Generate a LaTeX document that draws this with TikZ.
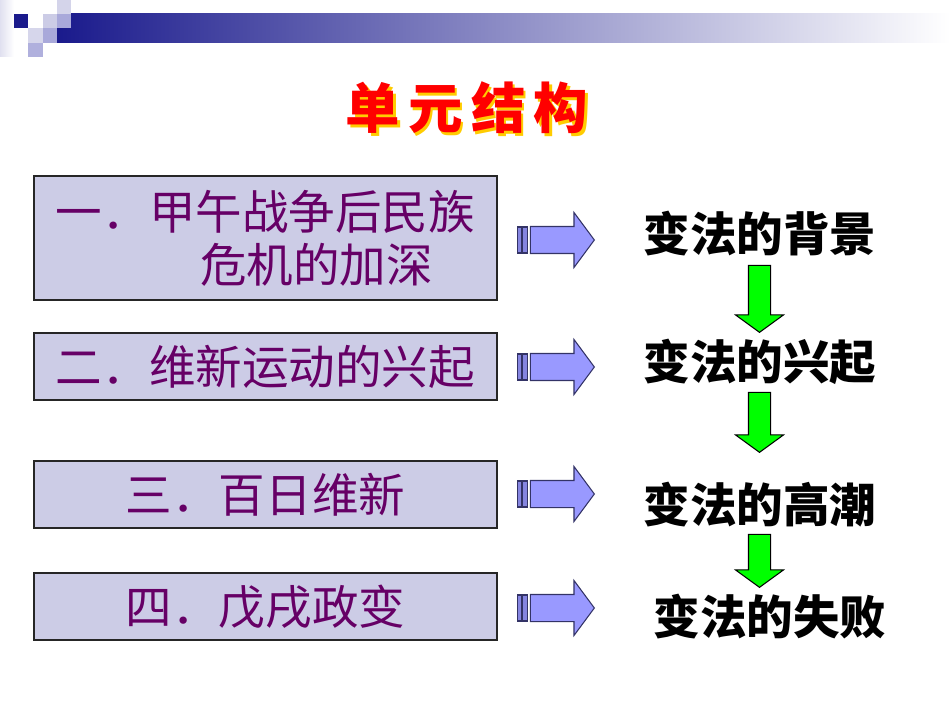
\documentclass[tikz,border=0pt]{standalone}
\usepackage{fontspec}
\newfontfamily\cjk{Noto Sans CJK SC}
\usetikzlibrary{shapes.arrows}
\definecolor{navy}{HTML}{1A1A8C}
\definecolor{lilac}{HTML}{CCCCE6}
\definecolor{plum}{HTML}{660066}
\definecolor{cornflower}{HTML}{9999FF}
\definecolor{slate}{HTML}{333366}
\definecolor{gold}{HTML}{FFCC00}
\tikzset{
  heading/.style={
    text=red,
    font=\cjk\bfseries\fontsize{31}{34}\selectfont,
    inner sep=0pt
  },
  topic/.style={
    draw=black!85,
    line width=0.8pt,
    fill=lilac,
    text=plum,
    minimum width=9.26cm,
    font=\cjk\fontsize{26.5}{30}\selectfont,
    inner sep=0pt
  },
  stage/.style={
    text=black,
    font=\cjk\bfseries\fontsize{26.5}{30}\selectfont,
    inner sep=0pt
  },
  pointer/.style={
    single arrow,
    draw=slate,
    fill=cornflower,
    line width=0.6pt,
    inner sep=0.26cm,
    single arrow head extend=0.28cm,
    single arrow tip angle=107,
    minimum height=1.28cm,
    anchor=tip
  },
  tailbar/.style={
    draw=slate,
    fill=cornflower!80!slate,
    line width=0.6pt
  },
  godown/.style={
    single arrow,
    shape border rotate=270,
    draw=black,
    fill=green,
    line width=0.6pt,
    inner sep=0.21cm,
    single arrow head extend=0.26cm,
    single arrow tip angle=108,
    anchor=tip
  }
}

\begin{document}
\begin{tikzpicture}[x=0.02cm,y=-0.02cm]
  \useasboundingbox (0,0) rectangle (950,713);

  % header band
  \shade[left color=lilac!60, right color=white] (0,0) rectangle (14,57);
  \shade[left color=navy, right color=white] (57,14) rectangle (950,43);
  \fill[navy] (14,14) rectangle (28,28);
  \fill[lilac] (43,14) rectangle (57,28);
  \fill[lilac!85] (57,0) rectangle (71,14);
  \fill[cornflower!60!slate!60] (57,14) rectangle (71,28);
  \fill[lilac!80] (28,28) rectangle (43,43);
  \fill[cornflower!60!slate!60] (43,28) rectangle (57,43);
  \fill[cornflower!60!slate!55] (28,43) rectangle (43,57);

  % title
  \node[heading, text=gold] (titleshadow) at (469.5,110.5)
    {单\hspace{.15em}元\hspace{.15em}结\hspace{.15em}构};
  \node[heading] (title) at (467,108)
    {单\hspace{.15em}元\hspace{.15em}结\hspace{.15em}构};

  % left column
  \node[topic, minimum height=2.48cm, align=left] (jiawu) at (265.5,238)
    {一．甲午战争后民族\\\hspace*{3.1em}危机的加深};
  \node[topic, minimum height=1.34cm] (weixin) at (265.5,366.5) {二．维新运动的兴起};
  \node[topic, minimum height=1.34cm] (bairi) at (265.5,494.5) {三．百日维新};
  \node[topic, minimum height=1.34cm] (wuxu) at (265.5,606.5) {四．戊戌政变};

  % right column
  \node[stage] (beijing) at (760,234) {变法的背景};
  \node[stage] (xingqi) at (760,362) {变法的兴起};
  \node[stage] (gaochao) at (760,505) {变法的高潮};
  \node[stage] (shibai) at (770,617) {变法的失败};

  % blue pointers
  \node[pointer] (a1) at (595,240) {};
  \node[pointer] (a2) at (595,367) {};
  \node[pointer] (a3) at (595,494) {};
  \node[pointer] (a4) at (595,608) {};
  \foreach \n in {1,2,3,4}{
    \draw[tailbar] ([shift={(-7,-13)}]a\n.tail) rectangle ([shift={(-2,13)}]a\n.tail);
    \draw[tailbar] ([shift={(-12,-13)}]a\n.tail) rectangle ([shift={(-8,13)}]a\n.tail);
  }

  % green steps
  \node[godown, minimum height=1.34cm] (g1) at (759.5,333) {};
  \node[godown, minimum height=1.20cm] (g2) at (759.5,453) {};
  \node[godown, minimum height=1.06cm] (g3) at (759.5,588) {};
\end{tikzpicture}
\end{document}
